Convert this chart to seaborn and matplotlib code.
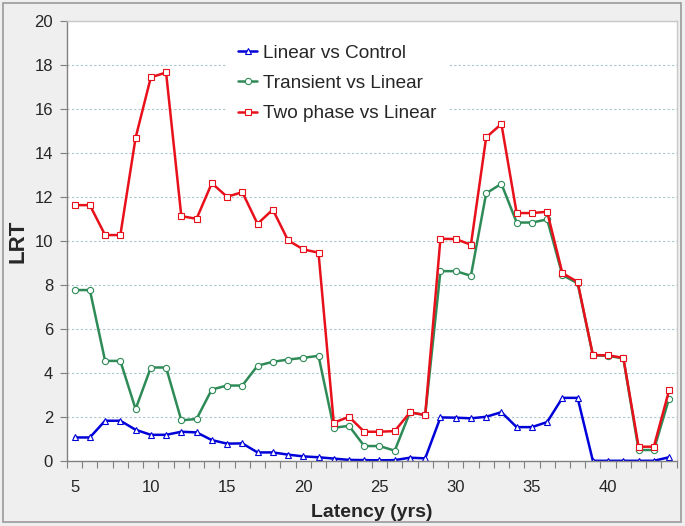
import numpy as np
import pandas as pd
import matplotlib
matplotlib.use('Agg')
import matplotlib.pyplot as plt
import seaborn as sns

# latency in years (one point per year)
latency = list(range(5, 45))

linear_vs_control = [1.07, 1.07, 1.83, 1.83, 1.42, 1.19, 1.19, 1.33, 1.30, 0.95,
                     0.79, 0.80, 0.39, 0.39, 0.29, 0.21, 0.17, 0.11, 0.05, 0.04,
                     0.03, 0.04, 0.15, 0.12, 1.98, 1.97, 1.94, 2.01, 2.22, 1.54,
                     1.54, 1.77, 2.87, 2.87, 0.01, 0.01, 0.01, 0.01, 0.01, 0.17]
transient_vs_linear = [7.77, 7.77, 4.55, 4.55, 2.36, 4.25, 4.25, 1.85, 1.91, 3.25,
                       3.43, 3.43, 4.33, 4.51, 4.61, 4.69, 4.78, 1.51, 1.60, 0.68,
                       0.68, 0.47, 2.21, 2.09, 8.63, 8.63, 8.42, 12.17, 12.60, 10.84,
                       10.84, 10.98, 8.45, 8.08, 4.80, 4.78, 4.66, 0.50, 0.50, 2.84]
two_phase_vs_linear = [11.63, 11.63, 10.27, 10.27, 14.69, 17.44, 17.66, 11.13, 11.01, 12.63,
                       12.01, 12.22, 10.78, 11.43, 10.03, 9.62, 9.47, 1.74, 2.01, 1.33,
                       1.33, 1.36, 2.21, 2.09, 10.10, 10.09, 9.83, 14.71, 15.32, 11.27,
                       11.27, 11.33, 8.54, 8.14, 4.82, 4.80, 4.69, 0.65, 0.65, 3.21]

series_names = ['Linear vs Control', 'Transient vs Linear', 'Two phase vs Linear']
series_values = [linear_vs_control, transient_vs_linear, two_phase_vs_linear]
colors = ['#0000d8', '#2e8b57', '#e8101a']
markers = ['^', 'o', 's']

sns.set_style('white')
plt.rcParams['font.family'] = ['Liberation Sans', 'DejaVu Sans']

fig = plt.figure(figsize=(6.85, 5.26), dpi=100, facecolor='#efefef')
ax = fig.add_axes([67 / 685, 65 / 526, 609.7 / 685, 440 / 526])
ax.set_facecolor('white')

for name, vals, col, mk in zip(series_names, series_values, colors, markers):
    df = pd.DataFrame({'latency': latency, 'LRT': vals})
    sns.lineplot(data=df, x='latency', y='LRT', ax=ax, color=col, linewidth=1.8,
                 marker=mk, markersize=4.5, markerfacecolor='white',
                 markeredgecolor=col, markeredgewidth=0.8, label=name)

ax.set_xlim(4.5, 44.5)
ax.set_ylim(0, 20)
ax.set_xticks(range(5, 45, 5))
ax.set_xticks(np.arange(4.5, 45, 1), minor=True)
ax.set_yticks(range(0, 21, 2))
ax.tick_params(axis='x', which='major', length=0, pad=14, labelsize=12)
ax.tick_params(axis='x', which='minor', length=5, width=0.8, color='#808080', direction='out')
ax.tick_params(axis='y', which='major', length=5, width=0.8, color='#808080', direction='out',
               labelsize=12, pad=5)
ax.xaxis.set_ticks_position('bottom')
ax.yaxis.set_ticks_position('left')

ax.yaxis.grid(True, linestyle=(0, (2, 2)), color='#a9c6cc', linewidth=0.8)
ax.set_axisbelow(True)

for side in ['left', 'bottom']:
    ax.spines[side].set_color('#808080')
    ax.spines[side].set_linewidth(1.0)
for side in ['top', 'right']:
    ax.spines[side].set_visible(True)
    ax.spines[side].set_color('#c8c8c8')
    ax.spines[side].set_linewidth(1.0)

ax.set_xlabel('Latency (yrs)', fontsize=14, fontweight='bold', labelpad=6)
ax.set_ylabel('LRT', fontsize=16, fontweight='bold', labelpad=4)

leg = ax.legend(loc='upper left', bbox_to_anchor=(0.262, 0.972), borderaxespad=0,
                fontsize=13.7, frameon=True, framealpha=1, edgecolor='white',
                fancybox=False, handlelength=1.0, handletextpad=0.3,
                labelspacing=0.67, borderpad=0.6)

# outer grey border of the figure
fig.patches.append(plt.Rectangle((3 / 685, 4 / 526), 678 / 685, 519 / 526,
                                 transform=fig.transFigure, fill=False,
                                 edgecolor='#9a9a9a', linewidth=1.2))

fig.savefig('out.png', dpi=100, facecolor=fig.get_facecolor())
